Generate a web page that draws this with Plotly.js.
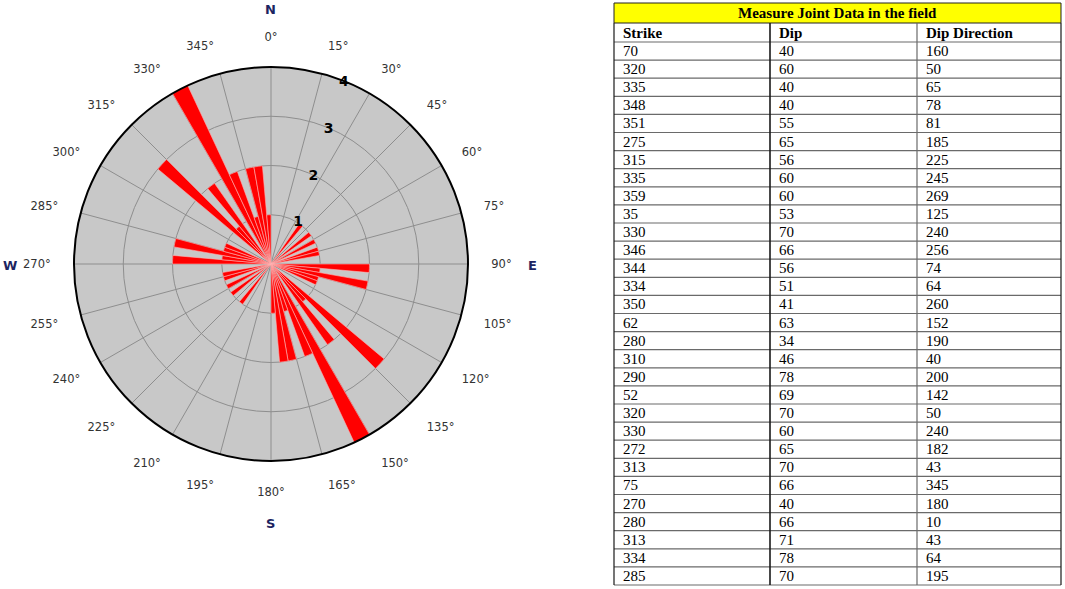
<!DOCTYPE html>
<html>
<head>
<meta charset="utf-8">
<script src="https://cdn.plot.ly/plotly-3.0.1.min.js"></script>
<style>
  html, body { margin: 0; padding: 0; background: #ffffff; }
  #chart { width: 1065px; height: 589px; }
</style>
</head>
<body>
<div id="chart"></div>
<script>
// Rose diagram: 5 degree bins, bar centre direction and count
const roseDirection = [
  37.5, 52.5, 62.5, 72.5, 77.5,
  92.5, 97.5, 102.5, 107.5, 112.5, 132.5, 137.5, 142.5, 152.5, 157.5, 162.5, 167.5, 172.5, 177.5,
  217.5, 232.5, 242.5, 252.5, 257.5,
  272.5, 277.5, 282.5, 287.5, 292.5, 312.5, 317.5, 322.5, 332.5, 337.5, 342.5, 347.5, 352.5, 357.5
];
const roseCount = [
  1, 1, 1, 1, 1,
  2, 1, 2, 1, 1, 3, 1, 2, 4, 2, 1, 2, 2, 1,
  1, 1, 1, 1, 1,
  2, 1, 2, 1, 1, 3, 1, 2, 4, 2, 1, 2, 2, 1
];

// Angular and radial ticks
const angleTickVals = [0, 15, 30, 45, 60, 75, 90, 105, 120, 135, 150, 165,
  180, 195, 210, 225, 240, 255, 270, 285, 300, 315, 330, 345];
const angleTickText = ['0°', '15°', '30°', '45°', '60°', '75°', '90°', '105°', '120°', '135°', '150°', '165°',
  '180°', '195°', '210°', '225°', '240°', '255°', '270°', '285°', '300°', '315°', '330°', '345°'];
const radialTickVals = [1, 2, 3, 4];

// Compass letters
const compassLetters = ['N', 'E', 'S', 'W'];

// Table data
const tableTitle = 'Measure Joint Data in the field';
const tableHeaders = ['Strike', 'Dip', 'Dip Direction'];
const strikeValues = [70, 320, 335, 348, 351, 275, 315, 335, 359, 35, 330, 346, 344, 334, 350,
  62, 280, 310, 290, 52, 320, 330, 272, 313, 75, 270, 280, 313, 334, 285];
const dipValues = [40, 60, 40, 40, 55, 65, 56, 60, 60, 53, 70, 66, 56, 51, 41,
  63, 34, 46, 78, 69, 70, 60, 65, 70, 66, 40, 66, 71, 78, 70];
const dipDirectionValues = [160, 50, 65, 78, 81, 185, 225, 245, 269, 125, 240, 256, 74, 64, 260,
  152, 190, 40, 200, 142, 50, 240, 182, 43, 345, 180, 10, 43, 64, 195];

const W = 1065, H = 589;
const px = x => x / W;
const py = y => 1 - y / H;

// Polar placement (pixel box of the circle)
const cx = 271, cy = 264, rad = 197;

// Table placement in pixels
const colEdges = [614, 770, 917, 1061];
const titleTop = 3, headerTop = 23, headerH = 19, rowH = 18.1;
const tableFont = 'Liberation Serif, Times New Roman, serif';

const rose = {
  type: 'barpolar',
  theta: roseDirection,
  r: roseCount,
  width: 5,
  marker: {
    color: '#ff0000',
    line: { color: '#ffb4b4', width: 0.6 }
  },
  hoverinfo: 'r+theta'
};

const annotations = [];
const shapes = [];

// Compass letter positions
const compassPos = { N: [270, 9], E: [532, 265], S: [270, 523], W: [10, 265] };
compassLetters.forEach(c => annotations.push({
  xref: 'paper', yref: 'paper',
  x: px(compassPos[c][0]), y: py(compassPos[c][1]),
  text: '<b>' + c + '</b>', showarrow: false,
  xanchor: 'center', yanchor: 'middle',
  font: { family: 'DejaVu Sans, Verdana, sans-serif', size: 13, color: '#1c2461' }
}));

// Yellow title row
shapes.push({
  type: 'rect', xref: 'paper', yref: 'paper',
  x0: px(colEdges[0]), x1: px(colEdges[3]), y0: py(headerTop), y1: py(titleTop),
  fillcolor: '#ffff00',
  line: { color: '#222222', width: 1 }
});
annotations.push({
  xref: 'paper', yref: 'paper',
  x: px((colEdges[0] + colEdges[3]) / 2), y: py((titleTop + headerTop) / 2),
  text: '<b>' + tableTitle + '</b>', showarrow: false,
  xanchor: 'center', yanchor: 'middle',
  font: { family: tableFont, size: 15, color: '#000000' }
});

// Table body built from the columns
function cellText(col, rowTop, h, text, bold) {
  annotations.push({
    xref: 'paper', yref: 'paper',
    x: px(colEdges[col] + 7), y: py(rowTop + h / 2),
    text: bold ? '<b>' + text + '</b>' : String(text),
    showarrow: false, xanchor: 'left', yanchor: 'middle',
    font: { family: tableFont, size: 15, color: '#000000' }
  });
}
function hLine(y) {
  shapes.push({
    type: 'line', xref: 'paper', yref: 'paper',
    x0: px(colEdges[0]), x1: px(colEdges[3]), y0: py(y), y1: py(y),
    line: { color: '#6a6a6a', width: 1.2 }
  });
}

tableHeaders.forEach((h, i) => cellText(i, headerTop, headerH, h, true));
hLine(headerTop + headerH);
const columns = [strikeValues, dipValues, dipDirectionValues];
strikeValues.forEach((_, r) => {
  const top = headerTop + headerH + r * rowH;
  columns.forEach((col, c) => cellText(c, top, rowH, col[r], false));
  hLine(top + rowH);
});
const tableBottom = headerTop + headerH + strikeValues.length * rowH;
colEdges.forEach((x, i) => shapes.push({
  type: 'line', xref: 'paper', yref: 'paper',
  x0: px(x), x1: px(x), y0: py(headerTop), y1: py(tableBottom),
  line: { color: i === 2 ? '#6a6a6a' : '#1a1a1a', width: i === 1 ? 1.6 : 1.2 }
}));

const layout = {
  width: W,
  height: H,
  margin: { l: 0, r: 0, t: 0, b: 0 },
  paper_bgcolor: '#ffffff',
  showlegend: false,
  polar: {
    domain: { x: [px(cx - rad), px(cx + rad)], y: [py(cy + rad), py(cy - rad)] },
    bgcolor: '#c8c8c8',
    bargap: 0,
    angularaxis: {
      rotation: 90,
      direction: 'clockwise',
      tickmode: 'array',
      tickvals: angleTickVals,
      ticktext: angleTickText,
      ticks: 'outside',
      ticklen: 20,
      tickcolor: 'rgba(0,0,0,0)',
      showline: true,
      linecolor: '#000000',
      linewidth: 2,
      gridcolor: '#8e8e8e',
      gridwidth: 1,
      tickfont: { family: 'Verdana, DejaVu Sans, sans-serif', size: 11.5, color: '#333333' }
    },
    radialaxis: {
      range: [0, 4],
      angle: 72,
      tickangle: 72,
      side: 'clockwise',
      tickmode: 'array',
      tickvals: radialTickVals,
      showline: false,
      ticks: '',
      gridcolor: '#8e8e8e',
      gridwidth: 1,
      tickfont: { family: 'DejaVu Sans, Verdana, sans-serif', size: 14, color: '#000000', weight: 'bold' }
    }
  },
  shapes: shapes,
  annotations: annotations
};

Plotly.newPlot('chart', [rose], layout, { displayModeBar: false, staticPlot: true });
</script>
</body>
</html>
